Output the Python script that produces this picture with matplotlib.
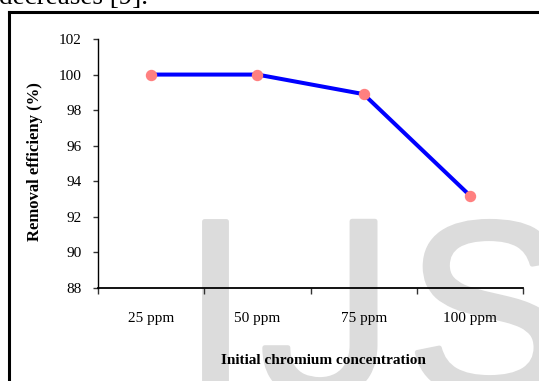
import matplotlib
matplotlib.use("Agg")
import matplotlib.pyplot as plt
import matplotlib.patheffects as pe
from matplotlib.lines import Line2D

# Data
concentrations = ["25 ppm", "50 ppm", "75 ppm", "100 ppm"]
removal_efficiency = [100.0, 100.0, 98.9, 93.2]
y_ticks = [88, 90, 92, 94, 96, 98, 100, 102]

W, H = 539, 381
DPI = 100
fig = plt.figure(figsize=(W / DPI, H / DPI), dpi=DPI)
fig.patch.set_facecolor("white")

def fx(px):
    return px / W

def fy(py):
    return 1 - py / H

serif = "Liberation Serif"

# Light watermark lettering behind the chart
wm_color = "#dcdcdc"
wm_kw = dict(fontsize=177, color=wm_color, va="baseline", zorder=-5,
             path_effects=[pe.withStroke(linewidth=3.5, foreground=wm_color)])
fig.text(fx(215), fy(390), "I", ha="center", family="Liberation Sans", **wm_kw)
fig.text(fx(394), fy(396), "J", ha="right", family="Roboto", **wm_kw)
fig.text(fx(406), fy(393), "S", ha="left", family="Liberation Sans", **wm_kw)

# Frame around the figure
lw_frame = 2.2
fig.add_artist(Line2D([fx(8.5), fx(8.5)], [fy(11.5), fy(H + 5)],
                      color="black", lw=lw_frame, solid_capstyle="projecting"))
fig.add_artist(Line2D([fx(8.5), fx(W + 5)], [fy(11.5), fy(11.5)],
                      color="black", lw=lw_frame, solid_capstyle="projecting"))

# Running text line above the frame
fig.text(fx(-1), fy(3.5), "decreases [9].", ha="left", va="baseline",
         fontsize=19.5, family=serif)

ax = fig.add_axes([fx(98), fy(288), fx(523) - fx(98), fy(39) - fy(288)])
ax.set_facecolor("none")

x = list(range(len(concentrations)))
ax.plot(x, removal_efficiency, color="#0000ff", lw=2.9, zorder=3,
        solid_joinstyle="round")
ax.plot(x, removal_efficiency, ls="none", marker="o", ms=7.2,
        mfc="#ff8080", mec="#ff8080", zorder=4)

ax.set_xlim(-0.5, len(concentrations) - 0.5)
ax.set_ylim(88, 102)
ax.set_yticks(y_ticks)
ax.set_yticklabels([str(v) for v in y_ticks], family=serif, fontsize=11)

ax.set_xticks([i - 0.5 for i in range(len(concentrations) + 1)])
ax.set_xticklabels([])
ax.set_xticks(x, minor=True)
ax.set_xticklabels(concentrations, minor=True, family=serif, fontsize=11)
ax.tick_params(axis="x", which="major", direction="out", length=4, width=1,
               color="#333333")
ax.tick_params(axis="x", which="minor", length=0, pad=17)
ax.tick_params(axis="y", direction="out", length=3.5, width=1, pad=8,
               color="#333333")

for s in ("top", "right"):
    ax.spines[s].set_visible(False)
ax.spines["left"].set_linewidth(1.0)
ax.spines["bottom"].set_linewidth(1.3)

fig.text(fx(323), fy(360), "Initial chromium concentration", ha="center",
         va="center", fontsize=11, family=serif, fontweight="bold")
fig.text(fx(35), fy(162), "Removal efficieny (%)", ha="center", va="center",
         rotation=90, fontsize=12, family=serif, fontweight="bold")

fig.savefig("out.png", dpi=DPI)
